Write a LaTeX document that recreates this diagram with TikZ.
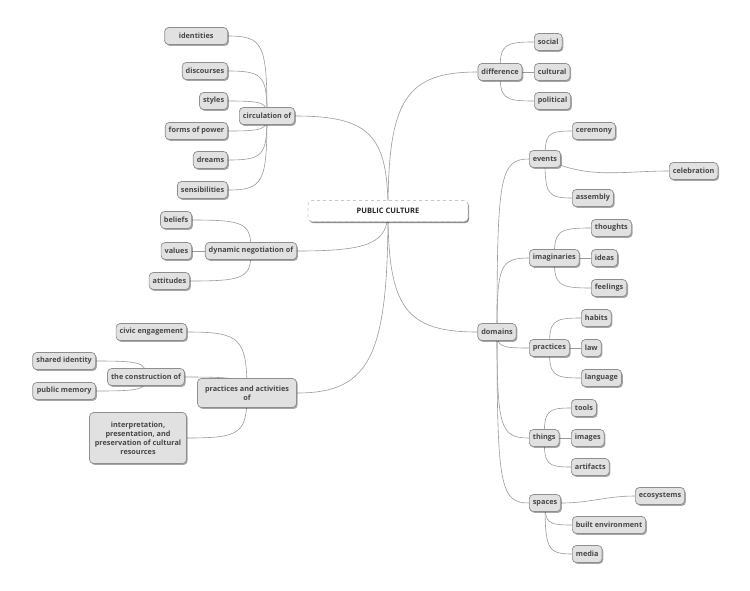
\documentclass[tikz,border=0pt]{standalone}
\usepackage{fontspec}
\setmainfont{Open Sans}
\usetikzlibrary{shadows,backgrounds,calc}
\definecolor{nodefill}{HTML}{E1E1E1}
\definecolor{nodeborder}{HTML}{8E8E8E}
\definecolor{nodetext}{HTML}{474747}
\definecolor{linkcol}{HTML}{9A9A9A}
\tikzset{
  topic/.style={draw=nodeborder, fill=nodefill, rounded corners=4pt, line width=0.7pt,
    font=\fontsize{7.3}{9}\selectfont\bfseries, text=nodetext, inner xsep=3.5pt, inner ysep=2pt,
    minimum height=17pt, align=center,
    drop shadow={shadow xshift=1.2pt, shadow yshift=-1.4pt, fill=black, opacity=0.35}},
  central/.style={draw=gray!45, dashed, fill=white, rounded corners=4pt, line width=0.7pt,
    font=\fontsize{7.5}{9}\selectfont\bfseries, text=black!85, minimum width=160pt, minimum height=21pt,
    drop shadow={shadow xshift=1.2pt, shadow yshift=-1.6pt, fill=black, opacity=0.45}},
  link/.style={draw=linkcol, line width=0.6pt},
  branch/.style={to path={.. controls ($(\tikztostart)!#1!(\tikztostart |- \tikztotarget)$) and ($(\tikztotarget)!#1!(\tikztostart |- \tikztotarget)$) .. (\tikztotarget)}},
  branch/.default=0.9
}
\begin{document}
\begin{tikzpicture}[x=1pt,y=1pt]
\useasboundingbox (0,0) rectangle (750,-590);
% central
\node[central] (pc) at (388,-211) {PUBLIC CULTURE};
% circulation of
\node[topic] (circ) at (267,-116) {circulation of};
\node[topic, anchor=east, minimum width=63pt] (ident) at (228,-36) {identities};
\node[topic, anchor=east] (disc) at (228,-71) {discourses};
\node[topic, anchor=east] (styl) at (228,-101) {styles};
\node[topic, anchor=east] (fop) at (228,-131) {forms of power};
\node[topic, anchor=east] (drea) at (228,-160) {dreams};
\node[topic, anchor=east] (sens) at (228,-190) {sensibilities};
% dynamic negotiation
\node[topic] (dyn) at (251,-251) {dynamic negotiation of};
\node[topic, anchor=east] (beli) at (192,-220) {beliefs};
\node[topic, anchor=east] (valu) at (192,-251) {values};
\node[topic, anchor=east] (atti) at (190,-281) {attitudes};
% practices and activities
\node[topic, minimum width=99pt, minimum height=29pt] (paa) at (247,-393) {practices and activities\\of};
\node[topic, anchor=east] (civic) at (187,-332) {civic engagement};
\node[topic] (constr) at (146,-377) {the construction of};
\node[topic, anchor=east, minimum width=63pt] (shid) at (96,-361) {shared identity};
\node[topic, anchor=east, minimum width=63pt] (pubm) at (96,-391) {public memory};
\node[topic, minimum width=97pt, minimum height=51pt] (interp) at (138,-438) {interpretation,\\presentation, and\\preservation of cultural\\resources};
% difference
\node[topic] (diff) at (500,-72) {difference};
\node[topic, anchor=west] (soci) at (534,-42) {social};
\node[topic, anchor=west] (cult) at (534,-72) {cultural};
\node[topic, anchor=west] (poli) at (534,-101) {political};
% domains
\node[topic] (dom) at (497,-332) {domains};
\node[topic, anchor=west] (even) at (529,-159) {events};
\node[topic, anchor=west] (cere) at (572,-131) {ceremony};
\node[topic, anchor=west] (cele) at (669,-171) {celebration};
\node[topic, anchor=west] (asse) at (572,-198) {assembly};
\node[topic, anchor=west] (imag) at (529,-258) {imaginaries};
\node[topic, anchor=west] (thou) at (591,-228) {thoughts};
\node[topic, anchor=west] (idea) at (591,-258) {ideas};
\node[topic, anchor=west] (feel) at (591,-288) {feelings};
\node[topic, anchor=west] (prac) at (529,-348) {practices};
\node[topic, anchor=west] (habi) at (581,-318) {habits};
\node[topic, anchor=west] (law) at (581,-348) {law};
\node[topic, anchor=west] (lang) at (581,-378) {language};
\node[topic, anchor=west] (thin) at (529,-438) {things};
\node[topic, anchor=west] (tool) at (571,-408) {tools};
\node[topic, anchor=west] (imgs) at (571,-438) {images};
\node[topic, anchor=west] (arti) at (571,-467) {artifacts};
\node[topic, anchor=west] (spac) at (529,-503) {spaces};
\node[topic, anchor=west] (ecos) at (635,-496) {ecosystems};
\node[topic, anchor=west] (buil) at (572,-525) {built environment};
\node[topic, anchor=west] (medi) at (572,-554) {media};
\begin{pgfonlayer}{background}
% main branches
\draw[link] (pc.center) to[branch=0.8] (circ.east);
\draw[link] (pc.center) to[branch=0.8] (dyn.east);
\draw[link] (pc.center) to[branch=0.8] (paa.east);
\draw[link] (pc.center) to[branch=0.8] (diff.west);
\draw[link] (pc.center) to[branch=0.8] (dom.west);
% circulation children
\foreach \c in {ident,disc,styl,fop,drea,sens} \draw[link] (circ.center) to[branch] (\c.east);
% dynamic negotiation children
\draw[link] (dyn.center) to[branch] (beli.east);
\draw[link] (dyn.west) -- (valu.east);
\draw[link] (dyn.center) to[branch] (atti.east);
% practices and activities children
\draw[link] (paa.center) to[branch] (civic.east);
\draw[link] (paa.center) to[branch] (constr.east);
\draw[link] (paa.center) to[branch] (interp.east);
\draw[link] (constr.center) to[branch] (shid.east);
\draw[link] (constr.center) to[branch] (pubm.east);
% difference children
\draw[link] (diff.center) to[branch] (soci.west);
\draw[link] (diff.east) -- (cult.west);
\draw[link] (diff.center) to[branch] (poli.west);
% domains children
\foreach \c in {even,imag,prac,thin,spac} \draw[link] (dom.center) to[branch] (\c.west);
\draw[link] (even.center) to[branch] (cere.west);
\draw[link] (even.center) to[out=-25,in=180] (cele.west);
\draw[link] (even.center) to[branch] (asse.west);
\draw[link] (imag.center) to[branch] (thou.west);
\draw[link] (imag.east) -- (idea.west);
\draw[link] (imag.center) to[branch] (feel.west);
\draw[link] (prac.center) to[branch] (habi.west);
\draw[link] (prac.east) -- (law.west);
\draw[link] (prac.center) to[branch] (lang.west);
\draw[link] (thin.center) to[branch] (tool.west);
\draw[link] (thin.east) -- (imgs.west);
\draw[link] (thin.center) to[branch] (arti.west);
\draw[link] (spac.east) to[out=0,in=180] (ecos.west);
\draw[link] (spac.center) to[branch] (buil.west);
\draw[link] (spac.center) to[branch] (medi.west);
\end{pgfonlayer}
\end{tikzpicture}
\end{document}
